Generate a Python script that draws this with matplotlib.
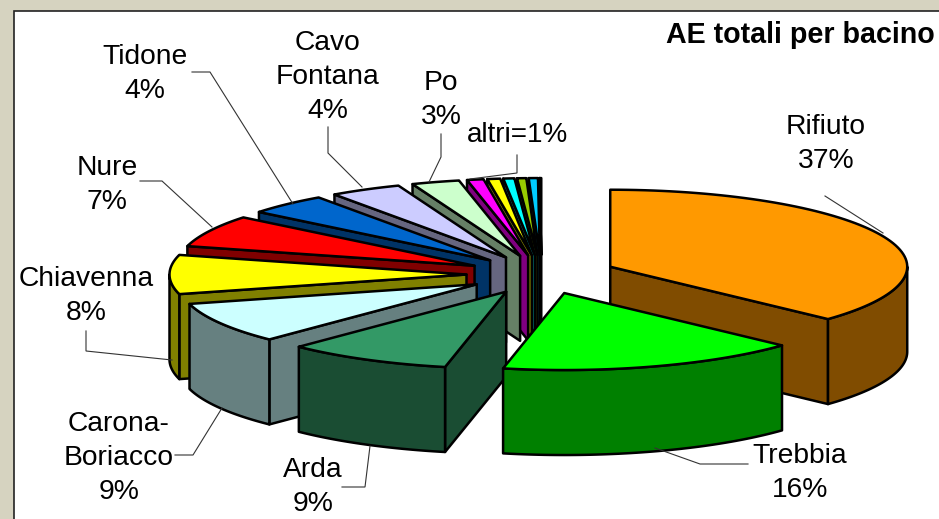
import numpy as np
import matplotlib
matplotlib.use('Agg')
import matplotlib.pyplot as plt
from matplotlib.patches import Polygon, Rectangle

plt.rcParams['font.family'] = ['Liberation Sans', 'DejaVu Sans']

# slices, clockwise from 12 o'clock
names = ['Rifiuto', 'Trebbia', 'Arda', 'Carona-\nBoriacco', 'Chiavenna', 'Nure', 'Tidone',
         'Cavo\nFontana', 'Po', '', '', '', '', '', '']
values = [36.9, 16.4, 9.0, 8.6, 8.2, 6.7, 4.4, 3.9, 2.6, 0.9, 0.7, 0.6, 0.5, 0.5, 0.1]
top_colors = ['#FF9900', '#00FF00', '#339966', '#CCFFFF', '#FFFF00', '#FF0000', '#0066CC',
              '#CCCCFF', '#CCFFCC', '#FF00FF', '#FFFF00', '#00FFFF', '#99CC00', '#00CCFF', '#000000']
side_colors = ['#804C00', '#008000', '#1A4D33', '#668080', '#808000', '#800000', '#003366',
               '#666680', '#668066', '#800080', '#808000', '#008080', '#4D6600', '#006680', '#000000']
other_label = 'altri=1%'
title = 'AE totali per bacino'

# label centres and leader lines, in pixels of the picture
label_pos = [(826, 144), (800, 473), (313, 487), (119, 458), (86, 296), (107, 185), (145, 74),
             (328, 77), (441, 100)]
leaders = [[(825, 196), (883, 233)],
           [(748, 464), (700, 464), (655, 448)],
           [(342, 487), (365, 487), (370, 446)],
           [(175, 455), (193, 455), (222, 408)],
           [(86, 331), (86, 351), (172, 360)],
           [(140, 181), (162, 181), (212, 227)],
           [(192, 72), (210, 72), (293, 204)],
           [(328, 127), (328, 153), (362, 187)],
           [(441, 134), (441, 157), (429, 182)],
           [(517, 155), (517, 173), (470, 179)]]

CX, CY = 541.5, 274.5     # pie centre
A, B = 297, 77        # ellipse radii
DEPTH = 85
EXPLODE = 75


def rim(theta, ox, oy, dz=0):
    return ox + A * np.sin(theta), oy - B * np.cos(theta) + dz


fig = plt.figure(figsize=(9.39, 5.19), dpi=100, facecolor='#D6D3C0')
ax = fig.add_axes([0, 0, 1, 1])
ax.set_xlim(0, 939)
ax.set_ylim(519, 0)
ax.axis('off')

ax.add_patch(Rectangle((13.5, 11), 940, 520, facecolor='white', edgecolor='#222222', lw=1.2))

for line in leaders:
    xs, ys = zip(*line)
    ax.plot(xs, ys, color='#333333', lw=0.8, solid_joinstyle='miter')

edges = np.cumsum([0] + values) / sum(values) * 2 * np.pi
slices = []
for i in range(len(values)):
    mid = (edges[i] + edges[i + 1]) / 2
    slices.append((-np.cos(mid), i))

# back slices first, so the front ones cover them
for _, i in sorted(slices):
    t0, t1 = edges[i], edges[i + 1]
    mid = (t0 + t1) / 2
    ox = CX + EXPLODE * np.sin(mid)
    oy = CY - EXPLODE * B / A * np.cos(mid)
    style = dict(edgecolor='black', lw=1.8, joinstyle='round')

    # radial walls which face the viewer
    for t, show in ((t0, np.sin(t0) < -1e-6), (t1, np.sin(t1) > 1e-6)):
        if show:
            x, y = rim(t, ox, oy)
            ax.add_patch(Polygon([(ox, oy), (x, y), (x, y + DEPTH), (ox, oy + DEPTH)],
                                 facecolor=side_colors[i], **style))

    # outer wall, front half only
    lo, hi = max(t0, np.pi / 2), min(t1, 3 * np.pi / 2)
    if hi > lo:
        t = np.linspace(lo, hi, 60)
        x, y = rim(t, ox, oy)
        pts = list(zip(x, y)) + list(zip(x[::-1], y[::-1] + DEPTH))
        ax.add_patch(Polygon(pts, facecolor=side_colors[i], **style))

    t = np.linspace(t0, t1, 80)
    x, y = rim(t, ox, oy)
    ax.add_patch(Polygon([(ox, oy)] + list(zip(x, y)), facecolor=top_colors[i], **style))

for name, v, (x, y) in zip(names, values, label_pos):
    ax.text(x, y, f'{name}\n{v:.0f}%', ha='center', va='center', fontsize=20.3,
            linespacing=1.42, color='black')
ax.text(518, 135, other_label, ha='center', va='center', fontsize=20, color='black')
ax.text(935, 35, title, ha='right', va='center', fontsize=20.6, fontweight='bold', color='black')

fig.savefig('out.png', dpi=100, facecolor=fig.get_facecolor())
